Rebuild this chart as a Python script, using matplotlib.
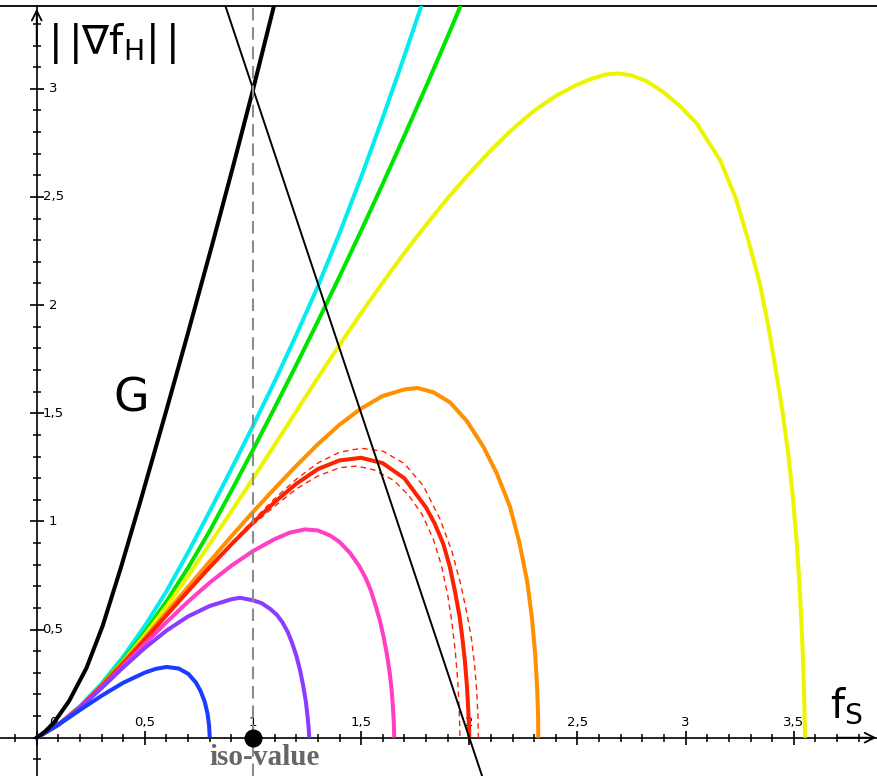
import numpy as np
import matplotlib
matplotlib.use("Agg")
import matplotlib.pyplot as plt

# ---------------- data ----------------
g_x = [0, 0.02, 0.04, 0.08, 0.15, 0.23, 0.305, 0.39, 0.478, 0.601, 0.693, 0.816, 0.909, 1.0, 1.094, 1.12]
g_y = [0, 0.014, 0.03, 0.07, 0.17, 0.322, 0.517, 0.789, 1.088, 1.519, 1.848, 2.297, 2.646, 2.996, 3.372, 3.476]

line_x = [0.85, 2.07]
line_y = [3.45, -0.21]

blue_x = [0, 0.1, 0.2, 0.3, 0.4, 0.5, 0.55, 0.6, 0.656, 0.701, 0.736, 0.758, 0.777, 0.79, 0.797, 0.8]
blue_y = [0, 0.06, 0.128, 0.194, 0.254, 0.301, 0.318, 0.327, 0.32, 0.295, 0.255, 0.215, 0.165, 0.11, 0.055, 0.0]

purple_x = [0, 0.1, 0.2, 0.3, 0.4, 0.5, 0.6, 0.7, 0.8, 0.9, 0.94, 1.0, 1.04, 1.08, 1.11, 1.135, 1.16, 1.18, 1.2, 1.218, 1.232, 1.244, 1.252, 1.257, 1.26]
purple_y = [0, 0.06, 0.138, 0.23, 0.325, 0.415, 0.495, 0.561, 0.609, 0.64, 0.647, 0.635, 0.622, 0.595, 0.568, 0.535, 0.49, 0.44, 0.38, 0.31, 0.24, 0.17, 0.10, 0.05, 0.0]

pink_x = [0, 0.1, 0.2, 0.3, 0.4, 0.5, 0.6, 0.7, 0.8, 0.9, 1.0, 1.1, 1.17, 1.24, 1.3, 1.356, 1.4, 1.448, 1.49, 1.52, 1.545, 1.567, 1.587, 1.605, 1.62, 1.632, 1.641, 1.647, 1.651, 1.653]
pink_y = [0, 0.06, 0.14, 0.232, 0.332, 0.434, 0.534, 0.629, 0.717, 0.795, 0.863, 0.918, 0.948, 0.963, 0.958, 0.935, 0.905, 0.855, 0.795, 0.74, 0.68, 0.61, 0.54, 0.46, 0.38, 0.30, 0.22, 0.14, 0.07, 0.0]

red_x = [0, 0.1, 0.2, 0.3, 0.4, 0.5, 0.6, 0.7, 0.8, 0.9, 1.0, 1.1, 1.2, 1.3, 1.4, 1.5, 1.6, 1.7, 1.8, 1.84, 1.88, 1.91, 1.935, 1.955, 1.968, 1.98, 1.989, 1.995, 1.999, 2.0]
red_y = [0, 0.06, 0.142, 0.239, 0.344, 0.454, 0.566, 0.678, 0.788, 0.894, 0.994, 1.089, 1.174, 1.242, 1.282, 1.294, 1.269, 1.199, 1.064, 0.99, 0.895, 0.79, 0.67, 0.56, 0.46, 0.35, 0.24, 0.13, 0.04, 0.0]

red_hi_x = [0.9, 1.0, 1.1, 1.2, 1.3, 1.4, 1.5, 1.6, 1.7, 1.787, 1.865, 1.92, 1.96, 1.99, 2.011, 2.025, 2.034, 2.04, 2.042]
red_hi_y = [0.9, 1.005, 1.105, 1.195, 1.27, 1.32, 1.338, 1.325, 1.267, 1.165, 1.01, 0.86, 0.71, 0.57, 0.45, 0.33, 0.22, 0.10, 0.0]
red_lo_x = [0.9, 1.0, 1.1, 1.2, 1.3, 1.4, 1.48, 1.56, 1.65, 1.72, 1.78, 1.833, 1.87, 1.9, 1.92, 1.935, 1.946, 1.953, 1.957]
red_lo_y = [0.89, 0.985, 1.07, 1.15, 1.21, 1.248, 1.256, 1.238, 1.19, 1.12, 1.035, 0.92, 0.80, 0.66, 0.53, 0.40, 0.27, 0.14, 0.0]

orange_x = [0, 0.1, 0.2, 0.3, 0.4, 0.5, 0.6, 0.7, 0.8, 0.9, 1.0, 1.1, 1.2, 1.3, 1.4, 1.5, 1.6, 1.7, 1.76, 1.834, 1.911, 1.988, 2.065, 2.127, 2.188, 2.232, 2.268, 2.29, 2.305, 2.314, 2.318, 2.319]
orange_y = [0, 0.06, 0.142, 0.24, 0.348, 0.462, 0.579, 0.697, 0.815, 0.931, 1.044, 1.152, 1.257, 1.357, 1.447, 1.522, 1.58, 1.61, 1.617, 1.597, 1.55, 1.465, 1.345, 1.222, 1.068, 0.90, 0.72, 0.55, 0.38, 0.22, 0.10, 0.0]

yellow_x = [0, 0.1, 0.2, 0.3, 0.4, 0.5, 0.6, 0.7, 0.8, 0.9, 1.0, 1.1, 1.2, 1.3, 1.4, 1.5, 1.6, 1.7, 1.8, 1.9, 2.0, 2.1, 2.2, 2.3, 2.4, 2.5, 2.57, 2.63, 2.69, 2.75, 2.82, 2.897, 2.974, 3.051, 3.159, 3.23, 3.29, 3.343, 3.383, 3.417, 3.449, 3.476, 3.497, 3.514, 3.527, 3.537, 3.545, 3.549, 3.552]
yellow_y = [0, 0.06, 0.142, 0.242, 0.352, 0.474, 0.606, 0.748, 0.896, 1.046, 1.198, 1.353, 1.509, 1.664, 1.816, 1.963, 2.105, 2.241, 2.371, 2.494, 2.609, 2.716, 2.814, 2.899, 2.967, 3.02, 3.048, 3.066, 3.071, 3.062, 3.035, 2.985, 2.92, 2.84, 2.671, 2.50, 2.30, 2.10, 1.90, 1.70, 1.50, 1.30, 1.10, 0.90, 0.70, 0.50, 0.30, 0.15, 0.0]

green_x = [0, 0.1, 0.2, 0.3, 0.4, 0.5, 0.6, 0.7, 0.8, 0.9, 1.0, 1.1, 1.2, 1.3, 1.4, 1.5, 1.6, 1.7, 1.8, 1.9, 2.0]
green_y = [0, 0.06, 0.143, 0.245, 0.36, 0.488, 0.63, 0.786, 0.956, 1.141, 1.331, 1.525, 1.723, 1.925, 2.132, 2.344, 2.561, 2.783, 3.01, 3.242, 3.479]

cyan_x = [0, 0.1, 0.2, 0.3, 0.4, 0.5, 0.6, 0.7, 0.8, 0.9, 1.0, 1.1, 1.2, 1.3, 1.4, 1.5, 1.6, 1.7, 1.8]
cyan_y = [0, 0.06, 0.145, 0.25, 0.375, 0.517, 0.677, 0.857, 1.047, 1.242, 1.442, 1.647, 1.862, 2.087, 2.332, 2.592, 2.867, 3.152, 3.447]

xtick_labels = ["0", "0,5", "1", "1,5", "2", "2,5", "3", "3,5"]
xtick_vals = [0, 0.5, 1, 1.5, 2, 2.5, 3, 3.5]
ytick_labels = ["0,5", "1", "1,5", "2", "2,5", "3"]
ytick_vals = [0.5, 1, 1.5, 2, 2.5, 3]

iso_value = 1.0

# ---------------- figure ----------------
W, H = 877, 776
fig = plt.figure(figsize=(W / 100, H / 100), dpi=100)
top_px = 6
ax = fig.add_axes([0, 0, 1, (H - top_px) / H])
ax.set_xlim(-0.1697, 3.8848)
ax.set_ylim(-0.1771, 3.3828)

ax.spines["right"].set_visible(False)
ax.spines["top"].set_linewidth(1.3)
ax.spines["left"].set_position(("data", 0))
ax.spines["bottom"].set_position(("data", 0))
ax.spines["left"].set_linewidth(1.2)
ax.spines["bottom"].set_linewidth(1.2)
ax.xaxis.set_ticks_position("bottom")
ax.yaxis.set_ticks_position("left")
ax.set_xticks(xtick_vals)
ax.set_yticks(ytick_vals)
ax.set_xticks(np.round(np.arange(-0.1, 3.85, 0.1), 2), minor=True)
ax.set_yticks(np.round(np.arange(-0.1, 3.35, 0.1), 2), minor=True)
ax.tick_params(which="major", direction="inout", length=10, width=1.2, labelbottom=False, labelleft=False)
ax.tick_params(which="minor", direction="inout", length=6, width=1.1)

# arrow heads
ax.annotate("", xy=(0, 3.37), xytext=(0, 3.2),
            arrowprops=dict(arrowstyle="->,head_length=0.7,head_width=0.35", lw=1.3, color="k",
                            shrinkA=0, shrinkB=0), annotation_clip=False)
ax.annotate("", xy=(3.882, 0), xytext=(3.7, 0),
            arrowprops=dict(arrowstyle="->,head_length=0.7,head_width=0.35", lw=1.3, color="k",
                            shrinkA=0, shrinkB=0), annotation_clip=False)

lw = 2.9
curves = [
    (cyan_x, cyan_y, "#00eeee"),
    (green_x, green_y, "#00e400"),
    (yellow_x, yellow_y, "#ecf500"),
    (orange_x, orange_y, "#ff9000"),
    (red_x, red_y, "#ff2200"),
    (pink_x, pink_y, "#ff3fc4"),
    (purple_x, purple_y, "#8a3cff"),
    (blue_x, blue_y, "#1a3cff"),
]
for cx, cy, col in curves:
    ax.plot(cx, cy, color=col, lw=lw, solid_capstyle="butt", solid_joinstyle="round", zorder=3)

ax.plot(red_hi_x, red_hi_y, color="#ff2200", lw=1.0, dashes=(4, 3), zorder=3)
ax.plot(red_lo_x, red_lo_y, color="#ff2200", lw=1.0, dashes=(4, 3), zorder=3)

ax.plot(g_x, g_y, color="k", lw=2.9, zorder=4, solid_joinstyle="round")
ax.plot(line_x, line_y, color="k", lw=1.4, zorder=4)

ax.axvline(iso_value, color="#8c8c8c", lw=1.5, dashes=(6, 3.3), zorder=5)
ax.plot([iso_value], [0], "o", color="k", ms=12, zorder=6, clip_on=False)

# tick labels
for v, t in zip(xtick_vals, xtick_labels):
    xv = 0.075 if v == 0 else v
    ax.text(xv, 0.072, t, fontsize=9.5, ha="center", va="center", zorder=2)
for v, t in zip(ytick_vals, ytick_labels):
    ax.text(0.0758, v, t, fontsize=9.5, ha="center", va="center", zorder=2)

ax.text(0.05, 3.16, r"$\mathregular{|\,|\nabla f_H|\,|}$", fontsize=29, ha="left", va="baseline")
ax.text(0.436, 1.506, "G", fontsize=33, ha="center", va="baseline")
ax.text(3.667, 0.096, r"$\mathregular{f_S}$", fontsize=29, ha="left", va="baseline")
ax.text(1.055, -0.128, "iso-value", fontsize=21, family="Liberation Serif", weight="bold",
        color="#666666", ha="center", va="baseline")

fig.savefig("out.png", dpi=100)
